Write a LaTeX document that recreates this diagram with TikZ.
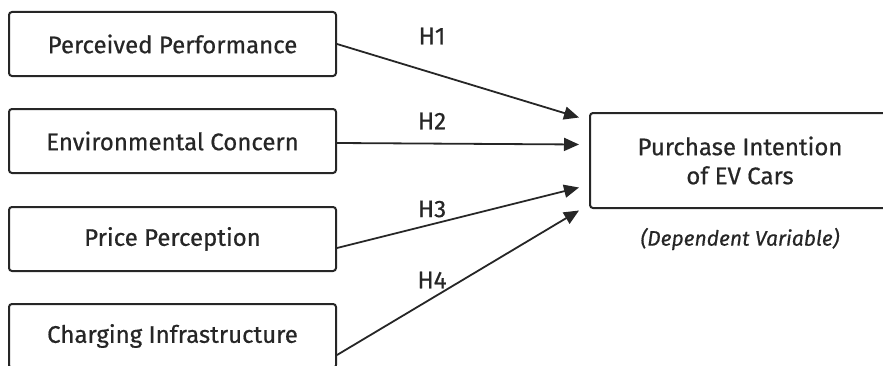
\documentclass[tikz,border=0pt]{standalone}
\usepackage{fontspec}
\setmainfont{Fira Sans}[FakeBold=0.6]
\usepackage{tikz}
\usetikzlibrary{positioning, arrows.meta, calc}

\definecolor{ink}{HTML}{262626}

\begin{document}
\begin{tikzpicture}[
  x=1pt, y=1pt,
  font=\fontsize{24}{32}\selectfont,
  ivbox/.style={draw=ink, line width=2pt, rounded corners=3pt, text=ink,
                minimum width=327pt, minimum height=64pt, inner sep=0pt},
  dvbox/.style={draw=ink, line width=2pt, rounded corners=3pt, text=ink,
                minimum width=300pt, minimum height=95pt, align=center},
  hyp/.style={text=ink},
  arr/.style={draw=ink, line width=1.8pt, -{Triangle[length=15pt, width=13pt]}},
]
  % Canvas (picture is cut at the right and bottom edges)
  \useasboundingbox (0,0) rectangle (883,365);
  \clip (0,0) rectangle (883,365);

  % Independent variables, one row each
  \foreach \i/\y/\t in {%
    1/321/{Perceived Performance},%
    2/224/{Environmental Concern},%
    3/126/{Price Perception},%
    4/29/{Charging Infrastructure}%
  }{
    \node[ivbox] (p\i) at (172.5, \y) {\t};
  }

  % Dependent variable
  \node[dvbox] (dv) at (740, 204.5) {Purchase Intention\\[-3pt]of EV Cars};
  \node[text=ink, font=\fontsize{21}{24}\selectfont\itshape] (dvnote) at (740, 126)
    {(Dependent Variable)};

  % Hypothesis paths (start shift, end shift)
  \foreach \i/\s/\e in {1/0/43, 2/-2/16, 3/-9/-27, 4/-19/-50}
    \draw[arr] ($(p\i.east)+(0,\s)$) -- ($(dv.west)+(-10,\e)$);

  % Hypothesis labels
  \foreach \i/\y in {1/329, 2/244, 3/156, 4/85}
    \node[hyp] (h\i) at (432, \y) {H\i};
\end{tikzpicture}
\end{document}
